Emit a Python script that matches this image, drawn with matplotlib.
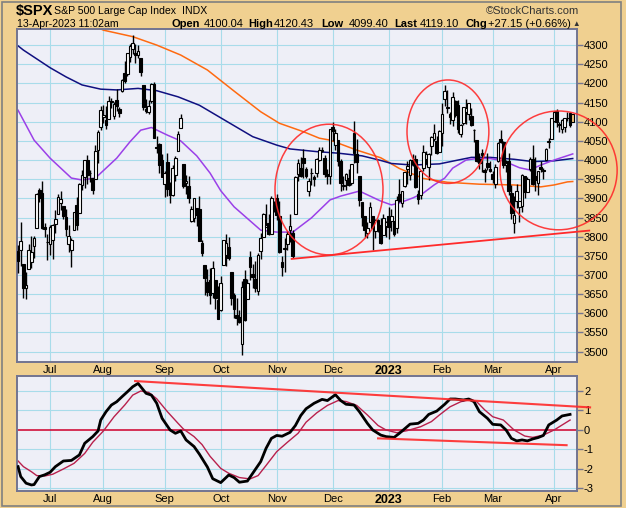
import numpy as np
import pandas as pd
import matplotlib
matplotlib.use("Agg")
import matplotlib.pyplot as plt
from matplotlib.patches import Ellipse, Rectangle

plt.rcParams['font.family'] = ['Liberation Sans', 'DejaVu Sans']

# ---------------------------------------------------------------
# trading calendar (NYSE holidays in the window)
# ---------------------------------------------------------------
holidays = ['2022-06-20', '2022-07-04', '2022-09-05', '2022-11-24', '2022-12-26',
            '2023-01-02', '2023-01-16', '2023-02-20', '2023-04-07']
dates = pd.bdate_range('2022-06-14', '2023-04-13', freq='C', holidays=holidays)

# ---------------------------------------------------------------
# daily OHLC (grouped by month)
# ---------------------------------------------------------------
opens = [
    3763.5, 3764.0, 3728.2, 3665.9, 3715.3, 3733.9, 3774.7, 3821.8, 3920.8, 3913.0, 3825.1, 3786.0,
    3781.0, 3792.6, 3832.0, 3858.9, 3888.3, 3880.9, 3851.9, 3779.7, 3764.0, 3818.0, 3883.8, 3860.7, 3935.3, 3955.5, 4000.3, 3965.7, 3953.2, 3951.4, 4026.1, 4087.3,
    4112.4, 4104.2, 4108.0, 4154.9, 4115.9, 4155.9, 4133.1, 4181.0, 4227.4, 4225.0, 4269.4, 4290.5, 4280.4, 4273.1, 4266.3, 4195.1, 4133.1, 4126.6, 4153.3, 4198.7, 4034.6, 4041.3, 4000.7,
    3936.7, 3994.7, 3930.9, 3909.4, 3959.9, 4022.9, 4083.7, 3991.0, 3940.7, 3932.4, 3842.0, 3849.9, 3875.2, 3871.4, 3782.4, 3727.1, 3682.7, 3686.4, 3651.9, 3687.0, 3633.5,
    3609.8, 3726.5, 3753.3, 3772.0, 3706.7, 3647.5, 3595.9, 3590.8, 3520.4, 3690.4, 3638.7, 3746.3, 3703.1, 3689.1, 3657.1, 3762.0, 3799.4, 3826.0, 3834.7, 3808.3, 3881.9,
    3901.8, 3852.9, 3733.3, 3767.0, 3780.7, 3817.0, 3810.9, 3859.9, 3963.7, 3978.0, 4006.4, 3976.8, 3919.3, 3966.4, 3956.2, 3965.5, 4000.3, 4023.3, 4005.4, 3964.2, 3957.2,
    4087.1, 4040.2, 4052.0, 3996.6, 3933.3, 3947.8, 3954.2, 3939.3, 4069.4, 4015.5, 3958.4, 3890.9, 3853.8, 3810.5, 3839.5, 3853.6, 3815.1, 3843.3, 3829.6, 3805.5, 3829.1,
    3853.3, 3840.4, 3839.7, 3823.4, 3910.8, 3888.6, 3932.4, 3977.6, 3960.6, 3999.3, 4002.3, 3911.8, 3909.0, 3978.1, 4001.7, 3982.7, 4036.1, 4053.7, 4049.3, 4020.9,
    4070.1, 4158.7, 4136.7, 4119.6, 4105.3, 4153.5, 4144.3, 4068.9, 4096.6, 4126.7, 4119.5, 4114.8, 4077.4, 4052.4, 4001.8, 4018.6, 3973.2, 3992.4, 3977.2,
    3963.3, 3938.7, 3998.0, 4055.2, 4048.3, 3987.6, 3998.7, 3912.8, 3835.1, 3894.0, 3876.7, 3878.9, 3958.7, 3917.5, 3975.9, 4002.0, 3959.2, 3939.2, 3982.9, 3974.1, 3999.5, 4046.7, 4056.2,
    4102.2, 4128.0, 4094.5, 4081.2, 4085.2, 4110.3, 4121.7, 4100.04,
]
highs = [
    3778.2, 3837.6, 3728.2, 3707.7, 3779.7, 3801.8, 3802.6, 3913.7, 3927.7, 3945.9, 3836.5, 3807.0,
    3829.8, 3832.2, 3870.9, 3910.6, 3918.5, 3880.9, 3873.4, 3829.4, 3796.4, 3863.6, 3902.4, 3939.8, 3974.1, 3999.3, 4012.4, 3975.3, 3953.2, 4039.6, 4079.0, 4140.2,
    4144.9, 4140.5, 4167.7, 4161.3, 4151.6, 4186.6, 4137.3, 4211.0, 4257.9, 4280.5, 4301.8, 4325.3, 4302.2, 4300.5, 4266.3, 4195.1, 4159.8, 4156.6, 4200.5, 4203.0, 4063.0, 4045.0, 4015.4,
    3970.2, 4018.4, 3942.6, 3987.9, 4010.5, 4076.8, 4119.3, 3991.0, 3961.9, 3959.1, 3880.0, 3900.5, 3876.0, 3907.1, 3790.5, 3727.1, 3715.7, 3717.5, 3736.7, 3687.0, 3671.4,
    3698.4, 3791.9, 3806.9, 3797.9, 3706.7, 3652.2, 3640.7, 3608.3, 3685.4, 3712.0, 3689.7, 3762.8, 3728.6, 3736.0, 3757.9, 3810.7, 3862.9, 3886.2, 3859.9, 3905.4, 3893.7,
    3911.8, 3894.4, 3750.6, 3796.3, 3814.0, 3859.4, 3818.4, 3958.3, 4001.5, 4009.0, 4028.8, 3983.1, 3954.3, 3979.9, 3962.0, 4005.9, 4033.8, 4034.0, 4012.3, 3976.8, 4080.1,
    4100.5, 4080.5, 4052.5, 4001.5, 3957.6, 3966.7, 3977.0, 3990.7, 4101.0, 4053.8, 3958.4, 3890.9, 3854.9, 3838.2, 3889.8, 3853.6, 3845.8, 3846.7, 3848.3, 3858.2, 3839.9,
    3878.5, 3873.2, 3839.7, 3906.2, 3950.6, 3919.8, 3970.1, 3997.8, 4004.0, 4015.4, 4014.2, 3922.9, 3973.0, 4039.3, 4023.9, 4019.6, 4061.6, 4094.2, 4063.9, 4077.2,
    4149.0, 4195.4, 4182.4, 4124.6, 4176.5, 4156.9, 4156.2, 4094.4, 4138.9, 4159.8, 4148.1, 4136.5, 4081.5, 4052.4, 4017.4, 4028.3, 3978.3, 4018.1, 3997.5,
    3971.7, 3990.8, 4048.3, 4078.5, 4050.0, 4000.4, 4017.8, 3934.1, 3905.1, 3937.3, 3894.3, 3964.5, 3958.9, 3956.6, 4009.1, 4039.5, 4007.7, 3972.7, 3996.4, 3979.2, 4030.6, 4057.9, 4110.8,
    4127.7, 4133.1, 4099.7, 4107.3, 4109.5, 4124.3, 4125.0, 4120.43,
]
lows = [
    3705.7, 3722.3, 3639.8, 3636.9, 3715.3, 3717.7, 3743.5, 3821.8, 3889.7, 3820.1, 3799.0, 3738.7,
    3752.1, 3742.1, 3809.4, 3858.9, 3869.3, 3847.2, 3802.4, 3759.1, 3721.6, 3817.2, 3818.6, 3860.7, 3922.0, 3927.6, 3938.8, 3943.5, 3910.7, 3951.4, 3993.0, 4079.2,
    4096.0, 4079.8, 4108.0, 4135.4, 4107.3, 4129.0, 4112.1, 4177.3, 4201.4, 4219.8, 4256.9, 4277.8, 4253.1, 4267.4, 4218.7, 4129.9, 4124.0, 4120.0, 4147.6, 4057.7, 4017.4, 3965.2, 3954.5,
    3903.7, 3906.2, 3886.8, 3906.0, 3944.8, 4022.9, 4083.7, 3928.0, 3912.2, 3888.3, 3838.0, 3838.5, 3827.5, 3789.5, 3749.5, 3647.5, 3644.8, 3623.3, 3640.6, 3610.4, 3584.1,
    3604.9, 3726.5, 3722.7, 3739.2, 3620.7, 3588.1, 3568.5, 3573.9, 3491.6, 3579.7, 3638.7, 3686.5, 3666.5, 3656.4, 3647.4, 3742.6, 3799.4, 3824.1, 3803.8, 3808.3, 3863.2,
    3843.8, 3758.7, 3698.2, 3708.8, 3764.7, 3786.3, 3744.2, 3859.9, 3944.8, 3956.4, 3953.2, 3954.3, 3906.5, 3936.0, 3933.3, 3956.9, 3998.7, 4020.8, 3955.8, 3937.7, 3938.6,
    4050.9, 4026.6, 3984.5, 3918.4, 3922.7, 3921.0, 3933.0, 3935.3, 3993.0, 3965.7, 3879.5, 3827.9, 3800.0, 3795.6, 3839.5, 3764.5, 3797.0, 3813.2, 3780.8, 3805.5, 3800.3,
    3794.3, 3815.8, 3802.4, 3809.6, 3890.4, 3877.3, 3928.5, 3937.6, 3947.7, 3984.6, 3926.6, 3885.5, 3897.9, 3971.6, 3989.8, 3949.1, 4013.3, 4048.7, 4015.6, 4020.4,
    4037.2, 4141.9, 4123.4, 4093.4, 4088.4, 4111.7, 4069.7, 4060.8, 4092.7, 4095.0, 4104.0, 4089.5, 4048.0, 3995.2, 3976.9, 3969.2, 3943.1, 3973.6, 3969.0,
    3939.1, 3928.2, 3995.2, 4044.6, 3980.3, 3969.8, 3908.7, 3846.3, 3808.9, 3873.6, 3838.2, 3864.1, 3901.3, 3916.9, 3971.2, 3936.2, 3919.1, 3909.2, 3969.5, 3951.5, 3999.5, 4032.1, 4056.2,
    4098.8, 4086.9, 4072.6, 4069.8, 4072.6, 4102.6, 4086.9, 4099.40,
]
closes = [
    3735.5, 3790.0, 3666.8, 3674.8, 3764.8, 3759.9, 3795.7, 3911.7, 3900.1, 3821.6, 3818.8, 3785.4,
    3825.3, 3831.4, 3845.1, 3902.6, 3899.4, 3854.4, 3818.8, 3801.8, 3790.4, 3863.2, 3830.9, 3936.7, 3959.9, 3999.0, 3961.6, 3966.8, 3921.1, 4023.6, 4072.4, 4130.3,
    4118.6, 4091.2, 4155.2, 4151.9, 4145.2, 4140.1, 4122.5, 4210.2, 4207.3, 4280.2, 4297.1, 4305.2, 4274.0, 4283.7, 4228.5, 4138.0, 4128.7, 4140.8, 4199.1, 4057.7, 4030.6, 3986.2, 3955.0,
    3966.9, 3924.3, 3908.2, 3979.9, 4006.2, 4067.4, 4110.4, 3932.7, 3946.0, 3901.4, 3873.3, 3899.9, 3855.9, 3789.9, 3758.0, 3693.2, 3655.0, 3647.3, 3719.0, 3640.5, 3585.6,
    3678.4, 3790.9, 3783.3, 3744.5, 3639.7, 3612.4, 3588.8, 3577.0, 3669.9, 3583.1, 3678.0, 3720.0, 3695.2, 3665.8, 3752.8, 3797.3, 3859.1, 3830.6, 3807.3, 3901.1, 3872.0,
    3856.1, 3759.7, 3719.9, 3770.6, 3806.8, 3828.1, 3748.6, 3956.4, 3992.9, 3957.3, 3991.7, 3958.8, 3946.6, 3965.3, 3949.9, 4003.6, 4027.3, 4026.1, 3963.9, 3957.6, 4080.1,
    4076.6, 4071.7, 3998.8, 3941.3, 3933.9, 3963.5, 3934.4, 3990.6, 4019.7, 3995.3, 3895.8, 3852.4, 3817.7, 3821.6, 3878.4, 3822.4, 3844.8, 3829.3, 3783.2, 3849.3, 3839.5,
    3824.1, 3853.0, 3808.1, 3895.1, 3892.1, 3919.3, 3969.6, 3983.2, 3999.1, 3991.0, 3928.9, 3898.9, 3972.6, 4019.8, 4017.0, 4016.2, 4060.4, 4070.6, 4017.8, 4076.6,
    4119.2, 4179.8, 4136.5, 4111.1, 4164.0, 4117.9, 4081.5, 4090.5, 4137.3, 4136.1, 4147.6, 4090.4, 4079.1, 3997.3, 3991.1, 4012.3, 3970.0, 3982.2, 3970.2,
    3951.4, 3981.4, 4045.6, 4048.4, 3986.4, 3992.0, 3918.3, 3861.6, 3855.8, 3919.3, 3891.9, 3960.3, 3916.6, 3951.6, 4002.9, 3937.0, 3948.7, 3971.0, 3977.5, 3971.3, 4027.8, 4050.8, 4109.3,
    4124.5, 4100.6, 4090.4, 4105.0, 4109.1, 4108.9, 4092.0, 4119.10,
]

# ---------------------------------------------------------------
# overlays (day index, value)
# ---------------------------------------------------------------
sma50_day = [0, 6, 12, 20, 24, 29, 37, 42, 46, 50, 56, 61, 67, 72, 76, 81, 91, 97, 103, 110, 117, 121, 128, 136, 140, 143, 148, 152, 156, 160, 163, 168, 172, 177, 182, 188, 192, 196, 201, 208]
sma50_val = [4130, 4052, 4005, 3953, 3948, 3953, 4005, 4048, 4078, 4085, 4065, 4050, 4011, 3966, 3920, 3878, 3817, 3812, 3812, 3849, 3896, 3906, 3919, 3893, 3883, 3888, 3901, 3914, 3935, 3953, 3979, 4000, 4004, 4004, 3998, 3980, 3974, 3987, 4000, 4016]

ema200_day = [0, 2, 12, 18, 24, 31, 37, 45, 52, 60, 68, 78, 88, 97, 102, 112, 120, 129, 136, 140, 148, 158, 165, 170, 177, 186, 193, 201, 208]
ema200_val = [4298, 4287, 4241, 4217, 4196, 4185, 4183, 4187, 4181, 4165, 4143, 4102, 4061, 4039, 4029, 4022, 4018, 4011, 3999, 3991, 3987, 3990, 4000, 4007, 4007, 4002, 3996, 3998, 4004]

sma200_day = [27, 32, 43, 52, 61, 71, 81, 91, 98, 107, 113, 117, 127, 136, 143, 152, 161, 173, 186, 196, 201, 206, 208]
sma200_val = [4355, 4339, 4322, 4300, 4274, 4235, 4180, 4126, 4096, 4074, 4057, 4052, 4026, 4006, 3978, 3952, 3942, 3937, 3935, 3930, 3935, 3943, 3944]

# oscillator (lower panel)
osc_day = [0, 1, 3, 5, 6, 8, 10, 12, 14, 17, 20, 23, 25, 28, 30, 31, 33, 35, 37, 39, 41, 43, 45, 46, 48, 50, 52, 54, 57, 59, 61, 63, 66, 68, 71, 73, 76, 79, 81, 83, 86, 88, 91, 93, 95, 97, 99, 102, 104, 106, 108, 111, 114, 116, 119, 121, 123, 126, 128, 131, 133, 136, 138, 141, 143, 147, 150, 152, 154, 157, 160, 162, 164, 167, 169, 171, 173, 176, 178, 181, 183, 185, 187, 189, 191, 193, 195, 197, 199, 202, 204, 207]
osc_val = [-1.88, -2.39, -2.73, -2.82, -2.8, -2.39, -2.3, -2.17, -1.88, -1.59, -1.56, -1.28, -0.68, -0.34, -0.05, 0.51, 0.94, 1.28, 1.45, 1.71, 1.96, 2.22, 2.39, 2.22, 1.88, 1.79, 1.37, 0.6, 0.0, -0.17, -0.05, -0.51, -0.85, -1.24, -1.9, -2.5, -2.7, -2.31, -2.44, -2.68, -2.62, -2.22, -1.62, -0.94, -0.43, -0.28, -0.32, -0.12, 0.23, 0.74, 1.09, 1.37, 1.57, 1.51, 1.81, 1.51, 1.32, 1.28, 0.94, 0.34, 0.0, -0.26, -0.34, -0.38, -0.17, 0.3, 0.34, 0.51, 0.8, 0.97, 1.32, 1.59, 1.59, 1.54, 1.59, 1.45, 0.94, 0.6, 0.29, 0.26, 0.0, -0.43, -0.56, -0.51, -0.56, -0.46, -0.39, -0.28, 0.26, 0.51, 0.72, 0.8]
sig_day = [0, 2, 5, 7, 10, 13, 17, 21, 25, 28, 32, 36, 40, 43, 46, 49, 52, 56, 60, 62, 66, 69, 72, 76, 79, 83, 87, 90, 93, 97, 101, 105, 108, 112, 116, 120, 123, 127, 131, 135, 138, 142, 146, 151, 155, 158, 162, 166, 170, 172, 175, 178, 182, 186, 190, 193, 197, 201, 205, 207]
sig_val = [-1.59, -1.88, -2.14, -2.34, -2.36, -2.27, -2.0, -1.71, -1.2, -0.63, -0.05, 0.68, 1.28, 1.79, 2.0, 1.93, 1.6, 0.94, 0.34, 0.05, -0.34, -0.75, -1.35, -1.97, -2.22, -2.44, -2.51, -2.34, -1.82, -1.11, -0.63, -0.17, 0.4, 0.88, 1.26, 1.51, 1.46, 1.26, 0.77, 0.23, 0.0, -0.14, -0.03, 0.17, 0.43, 0.77, 1.19, 1.45, 1.57, 1.45, 1.03, 0.68, 0.51, 0.0, -0.31, -0.38, -0.26, 0.0, 0.34, 0.51]

# annotations drawn on the chart (day index, price)
trend_main = ([102.6, 214.2], [3742, 3816])
trend_osc_hi = ([43.9, 214.5], [2.51, 1.16])
trend_osc_lo = ([135, 205.7], [-0.43, -0.78])
circles = [(116.6, 3923, 40.5, 341), (161.2, 4074, 30.7, 270), (202.7, 3973, 43.9, 310)]

month_labels = ['Jul', 'Aug', 'Sep', 'Oct', 'Nov', 'Dec', '2023', 'Feb', 'Mar', 'Apr']

# ---------------------------------------------------------------
# figure
# ---------------------------------------------------------------
W, H = 626, 508
tan = '#F0D090'
bg = '#EEEFF7'
grid = '#A8DCEA'
spine = '#727490'

opens, highs, lows, closes = map(np.array, (opens, highs, lows, closes))
assert len(opens) == len(highs) == len(lows) == len(closes) == len(dates)
idx = np.arange(len(dates))

fig = plt.figure(figsize=(W / 100, H / 100), dpi=100)
fig.patch.set_facecolor(tan)
fig.patches.append(Rectangle((2 / W, 2 / H), 619 / W, 504 / H, transform=fig.transFigure,
                             facecolor='none', edgecolor='#808080', lw=1.2))

ax = fig.add_axes([17 / W, 1 - 362 / H, 560 / W, 333 / H])
ax2 = fig.add_axes([17 / W, 1 - 491 / H, 560 / W, 115 / H])

# month starts
month_key = dates.year * 12 + dates.month
month_pos = [i for i in range(1, len(dates)) if month_key[i] != month_key[i - 1]]

for a in (ax, ax2):
    a.set_facecolor(bg)
    a.set_xlim(-0.4, 209.6)
    for s in a.spines.values():
        s.set_color(spine)
        s.set_linewidth(1.4)
    for p in month_pos:
        a.axvline(p, color=grid, lw=0.8, zorder=0)
    a.set_xticks(month_pos)
    a.set_xticklabels(month_labels, fontsize=8)
    for lab in a.get_xticklabels():
        if lab.get_text() == '2023':
            lab.set_fontweight('bold')
            lab.set_fontsize(9)
    a.tick_params(axis='x', length=0, pad=2)
    a.yaxis.tick_right()
    a.tick_params(axis='y', length=4, width=1, color=spine, pad=1, labelsize=8)

# main panel
ax.set_ylim(3473, 4342)
yt = np.arange(3500, 4301, 50)
ax.set_yticks(yt)
ax.set_yticklabels([str(v) for v in yt])
for v in yt:
    ax.axhline(v, color=grid, lw=0.8, zorder=0)

ax.plot(sma200_day, sma200_val, color='#FF6A10', lw=1.1, zorder=2)
ax.plot(ema200_day, ema200_val, color='#101080', lw=1.1, zorder=2)
ax.plot(sma50_day, sma50_val, color='#9B40E8', lw=1.1, zorder=2)

ax.vlines(idx, lows, highs, color='black', lw=1, zorder=3)
up = closes >= opens
bot = np.minimum(opens, closes)
hgt = np.maximum(np.abs(closes - opens), 1.5)
face = np.where(up, 'white', 'black').astype(object)
face[-1] = '#F5C57A'
ax.bar(idx, hgt, bottom=bot, width=1.0, color=list(face), edgecolor='black', lw=0.8, zorder=4)

for cx, cy, w, h in circles:
    ax.add_patch(Ellipse((cx, cy), w, h, facecolor='none', edgecolor='#FF2A2A',
                         lw=1.1, zorder=5, clip_on=False, alpha=0.9))
ax.plot(trend_main[0], trend_main[1], color='#FF2A2A', lw=1.3, zorder=5, clip_on=False)

# lower panel
ax2.set_ylim(-3.13, 2.77)
ax2.set_yticks([-3, -2, -1, 0, 1, 2])
ax2.set_yticklabels(['-3', '-2', '-1', '0', '1', '2'])
for v in [-3, -2, -1, 1, 2]:
    ax2.axhline(v, color=grid, lw=0.8, zorder=0)
ax2.axhline(0, color='#D0103A', lw=1.2, zorder=1)
ax2.plot(sig_day, sig_val, color='#B8204C', lw=1.0, zorder=2)
ax2.plot(osc_day, osc_val, color='black', lw=2.0, zorder=3)
ax2.plot(trend_osc_hi[0], trend_osc_hi[1], color='#FF2A2A', lw=1.5, zorder=4, clip_on=False, alpha=0.9)
ax2.plot(trend_osc_lo[0], trend_osc_lo[1], color='#FF2A2A', lw=1.5, zorder=4, clip_on=False, alpha=0.9)

# header
def ftext(x, y, s, **kw):
    fig.text(x / W, 1 - y / H, s, va='center', ha=kw.pop('ha', 'left'), **kw)

ftext(16, 11, '\\$SPX', fontsize=10.5, fontweight='bold')
ftext(54, 11, 'S&P 500 Large Cap Index', fontsize=7.6)
ftext(182, 11, 'INDX', fontsize=7.6)
ftext(579, 11, '\u00a9StockCharts.com', fontsize=8, ha='right', color='#333333')
ftext(17, 24, '13-Apr-2023 11:02am', fontsize=7.6)
for x, s, bold in [(172, 'Open', True), (204, '4100.04', False), (248, 'High', True),
                   (274, '4120.43', False), (321, 'Low', True), (349, '4099.40', False),
                   (394, 'Last', True), (420, '4119.10', False), (466, 'Chg', True),
                   (488, '+27.15 (+0.66%)', False)]:
    ftext(x, 24, s, fontsize=8, fontweight='bold' if bold else 'normal')
ftext(572, 24, '\u25b2', fontsize=5.5, color='#333333')

fig.savefig('out.png', dpi=100, facecolor=fig.get_facecolor())
